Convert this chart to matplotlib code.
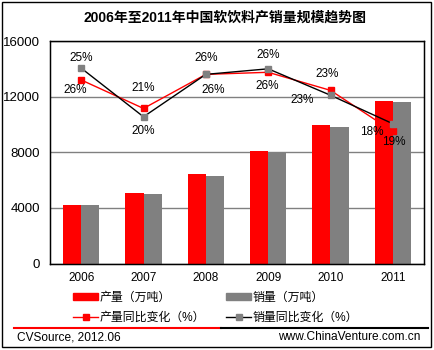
import numpy as np
import matplotlib.pyplot as plt
from matplotlib.patches import Rectangle
from matplotlib.lines import Line2D

plt.rcParams['font.family'] = ['Liberation Sans', 'Noto Sans CJK SC']

# 数据（万吨 / %）
years = ['2006', '2007', '2008', '2009', '2010', '2011']
output = [4200, 5040, 6420, 8080, 9970, 11700]
sales = [4200, 4970, 6270, 8010, 9820, 11580]
# 折线在隐藏的次坐标轴上
output_growth = [26.4, 22.3, 27.2, 27.5, 24.9, 19.0]
sales_growth = [28.1, 21.1, 27.2, 28.0, 24.2, 20.1]
output_labels = ['26%', '21%', '26%', '26%', '23%', '19%']
sales_labels = ['25%', '20%', '26%', '26%', '23%', '18%']

W, H = 434, 350
fig = plt.figure(figsize=(W / 100, H / 100), dpi=100)
ax = fig.add_axes([50 / W, 1 - 263.5 / H, 374 / W, 222.5 / H])

x = np.arange(len(years))
bw = 0.29
ax.bar(x - bw / 2, output, bw, color='#ff0000', zorder=2)
ax.bar(x + bw / 2, sales, bw, color='#808080', zorder=2)
ax.set_xlim(-0.5, 5.5)
ax.set_ylim(0, 16000)
ax.set_yticks([0, 4000, 8000, 12000, 16000])
ax.set_xticks(x)
ax.set_xticklabels(years)
ax.grid(axis='y', color='#808080', lw=1, zorder=0)
ax.tick_params(axis='y', length=0, pad=7, labelsize=9.5)
ax.tick_params(axis='x', length=0, pad=6, labelsize=8.5)
for s in ax.spines.values():
    s.set_color('black')
    s.set_linewidth(1)

ax2 = ax.twinx()
ax2.set_ylim(0, 32)
ax2.set_yticks([])
ax2.plot(x, output_growth, color='#ff0000', lw=1, marker='s', ms=5,
         mfc='#ff0000', mec='#ff0000', zorder=3)
ax2.plot(x, sales_growth, color='black', lw=1, marker='s', ms=5,
         mfc='#808080', mec='#808080', zorder=3)

out_off = [(-6, -10), (0, 20), (7, -16), (-1, -14), (-3, 16), (1, -11)]
sal_off = [(0, 10), (0, -14), (0, 16), (0, 14), (-28, -5), (-21, -8)]
for i in range(len(years)):
    ax2.annotate(output_labels[i], (x[i], output_growth[i]), xytext=out_off[i],
                 textcoords='offset pixels', ha='center', va='center', fontsize=8.5)
    ax2.annotate(sales_labels[i], (x[i], sales_growth[i]), xytext=sal_off[i],
                 textcoords='offset pixels', ha='center', va='center', fontsize=8.5)

fig.text(225 / W, 1 - 18 / H, '2006年至2011年中国软饮料产销量规模趋势图',
         ha='center', va='center', fontsize=10, fontweight='bold')

handles = [Rectangle((0, 0), 1, 1, color='#ff0000'),
           Line2D([], [], color='#ff0000', lw=1, marker='s', ms=5),
           Rectangle((0, 0), 1, 1, color='#808080'),
           Line2D([], [], color='black', lw=1, marker='s', ms=5,
                  mfc='#808080', mec='#808080')]
labels = ['产量（万吨）', '产量同比变化（%）', '销量（万吨）', '销量同比变化（%）']
fig.legend(handles, labels, loc='upper left', bbox_to_anchor=(67 / W, 1 - 286 / H),
           ncol=2, frameon=False, fontsize=8.6, borderpad=0, handlelength=2.1,
           handleheight=0.5, handletextpad=0.1, labelspacing=0.65, columnspacing=1.8)

fig.add_artist(Line2D([14 / W, 221 / W], [1 - 327.5 / H] * 2, color='#ff0000', lw=1.5))
fig.add_artist(Line2D([221 / W, 428 / W], [1 - 327.5 / H] * 2, color='black', lw=1.5))
fig.text(17 / W, 1 - 337.5 / H, 'CVSource, 2012.06', ha='left', va='center', fontsize=8.6)
fig.text(420 / W, 1 - 337.5 / H, 'www.ChinaVenture.com.cn', ha='right', va='center', fontsize=8.6)

fig.add_artist(Rectangle((2 / W, 3 / H), 429 / W, 345 / H, fill=False,
                         ec='black', lw=1, transform=fig.transFigure))

plt.savefig('out.png', dpi=100)
